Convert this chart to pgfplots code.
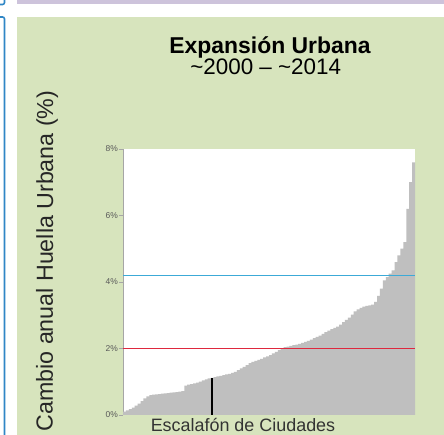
\documentclass[border=0pt]{standalone}
\usepackage{fontspec}
\setmainfont{Liberation Sans}
\usepackage{pgfplots}
\usepackage{pgfplotstable}
\pgfplotsset{compat=1.18}
\definecolor{bgg}{HTML}{D7E4BD}
\definecolor{purp}{HTML}{CDC3DB}
\definecolor{bluefr}{HTML}{2F86C6}
\definecolor{bargray}{HTML}{BFBFBF}
\definecolor{redline}{RGB}{222,40,62}
\definecolor{cyanline}{RGB}{60,170,215}
\definecolor{axgray}{HTML}{A6A6A6}
\definecolor{tickgray}{HTML}{595959}

\pgfplotstableread{
i v
1 0.10
2 0.14
3 0.18
4 0.22
5 0.28
6 0.34
7 0.42
8 0.50
9 0.56
10 0.60
11 0.61
12 0.62
13 0.63
14 0.64
15 0.65
16 0.66
17 0.67
18 0.68
19 0.69
20 0.70
21 0.72
22 0.88
23 0.91
24 0.93
25 0.95
26 0.97
27 1.00
28 1.04
29 1.07
30 1.10
31 1.12
32 1.14
33 1.16
34 1.18
35 1.20
36 1.22
37 1.24
38 1.27
39 1.30
40 1.35
41 1.40
42 1.45
43 1.50
44 1.56
45 1.60
46 1.63
47 1.66
48 1.69
49 1.73
50 1.76
51 1.80
52 1.85
53 1.90
54 1.95
55 2.00
56 2.04
57 2.06
58 2.08
59 2.10
60 2.12
61 2.14
62 2.17
63 2.20
64 2.23
65 2.27
66 2.31
67 2.35
68 2.39
69 2.44
70 2.49
71 2.54
72 2.58
73 2.62
74 2.66
75 2.72
76 2.79
77 2.86
78 2.93
79 3.02
80 3.12
81 3.18
82 3.22
83 3.26
84 3.28
85 3.30
86 3.32
87 3.40
88 3.58
89 3.80
90 4.05
91 4.15
92 4.25
93 4.35
94 4.60
95 4.80
96 5.00
97 5.20
98 6.20
99 7.00
100 7.60
}\ciudades

\begin{document}
\begin{tikzpicture}[x=1bp,y=1bp]
\useasboundingbox (0,0) rectangle (444,435);
\begin{scope}
\clip (0,0) rectangle (444,435);
\fill[white] (0,0) rectangle (444,435);
\fill[bgg] (17,0) rectangle (444,418);
\fill[purp] (17,431) rectangle (444,440);
\draw[bluefr, line width=1.6, rounded corners=2] (-10,-10) rectangle (4.5,418);
\draw[bluefr, line width=1.6, rounded corners=2] (-10,430.5) rectangle (4.5,445);
\end{scope}
\begin{axis}[
  at={(123bp,20bp)}, anchor=south west,
  width=292bp, height=266bp, scale only axis,
  xmin=0.5, xmax=100.5, ymin=0, ymax=8,
  axis x line=none, axis y line*=left,
  axis background/.style={fill=white},
  y axis line style={draw=axgray, line width=0.8bp},
  ytick={0,2,4,6,8},
  yticklabel={\pgfmathprintnumber{\tick}\%},
  /pgf/number format/assume math mode=true,
  yticklabel style={font=\fontsize{8.5}{10}\selectfont, text=tickgray, inner xsep=1bp},
  tick style={draw=axgray, line width=0.6bp},
  tick align=outside, major tick length=4bp,
]
\addplot[ybar, bar width=1, bar shift=0pt, fill=bargray, draw=none] table[x=i, y=v] {\ciudades};
\addplot[ybar, bar width=0.9, bar shift=0pt, fill=black, draw=none] coordinates {(31,1.12)};
\addplot[draw=redline, line width=1.6bp] coordinates {(0.5,2) (100.5,2)};
\addplot[draw=cyanline, line width=1.4bp] coordinates {(0.5,4.2) (100.5,4.2)};
\end{axis}
\node[anchor=base, inner sep=0pt, font=\bfseries\fontsize{23}{26}\selectfont] at (270,381.7) {Expansión Urbana};
\node[anchor=base, inner sep=0pt, font=\fontsize{22.5}{26}\selectfont] at (265.7,360.7) {\textasciitilde 2000 – \textasciitilde 2014};
\node[anchor=base, rotate=89.9, inner sep=0pt, text=black!85, font=\fontsize{23.3}{26}\selectfont] at (53,174) {Cambio anual Huella Urbana (\%)};
\node[anchor=base, inner sep=0pt, text=black!80, font=\fontsize{18}{20}\selectfont] at (243,3.3) {Escalafón de Ciudades};
\end{tikzpicture}
\end{document}
